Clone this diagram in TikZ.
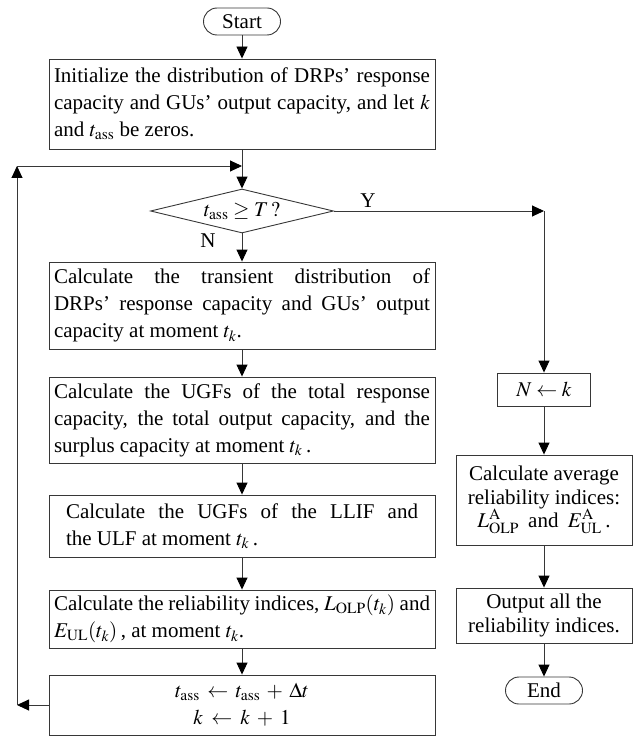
\documentclass[tikz,border=0pt]{standalone}
\usepackage{mathptmx}
\usepackage[no-math]{fontspec}
\setmainfont{Liberation Serif}
\usepackage{tikz}
\usetikzlibrary{arrows.meta, shapes.geometric, positioning}
\definecolor{LineColor}{RGB}{55,55,55}
\tikzstyle{arrow} = [line width=0.9pt, LineColor, -{Triangle[length=12pt, width=11pt, black]}]
\tikzstyle{process} = [rectangle, draw=LineColor, line width=0.9pt, text width=376pt, inner xsep=5pt, inner ysep=3pt, align=justify]
\tikzstyle{sidebox} = [rectangle, draw=LineColor, line width=0.9pt, minimum width=176pt, inner sep=3pt, align=center, font=\fontsize{21}{23.5}\selectfont]
\tikzstyle{terminal} = [rectangle, rounded corners=13.5pt, draw=LineColor, line width=0.9pt, minimum width=77pt, minimum height=27pt, inner sep=0pt]
\tikzstyle{decision} = [diamond, aspect=4, draw=LineColor, line width=0.9pt, minimum width=183pt, minimum height=44pt, inner sep=0pt]
\newcommand{\tass}{t_{\mathrm{ass}}}

\begin{document}
\begin{tikzpicture}[x=1pt, y=-1pt, font=\fontsize{21}{27}\selectfont]
                \useasboundingbox (0,0) rectangle (633,738);

                % Main column
                \node[terminal] (start) at (242,21.5) {Start};
                \node[process, minimum height=90pt] (init) at (242,104) {Initialize the distribution of DRPs’ response\linebreak capacity and GUs’ output capacity, and let $k$\linebreak and $\tass$ be zeros.};
                \node[decision] (test) at (242,211) {$\tass \geq T\,?$};
                \node[process, minimum height=87pt] (trans) at (242,305.5) {Calculate the transient distribution of\linebreak DRPs’ response capacity and GUs’ output\linebreak capacity at moment $t_k$.};
                \node[process, minimum height=86pt] (ugfcap) at (242,420) {Calculate the UGFs of the total response\linebreak capacity, the total output capacity, and the\linebreak surplus capacity at moment $t_k$\,.};
                \node[process, text width=352pt, inner xsep=17pt, minimum height=62pt] (ugfllif) at (242,526) {Calculate the UGFs of the LLIF and\linebreak the ULF at moment $t_k$\,.};
                \node[process, minimum height=58pt] (indices) at (242,619) {Calculate the reliability indices, $L_{\mathrm{OLP}}(t_k)$ and\linebreak $E_{\mathrm{UL}}(t_k)$\,, at moment $t_k$.};
                \node[process, align=center, minimum height=60pt] (update) at (242,705) {$\tass \mathrel{\!\leftarrow\!} \tass + \Delta t$\\ $k \mathrel{\!\leftarrow\!} k+1$};

                % Right column
                \node[sidebox, minimum width=93pt, minimum height=33pt] (setN) at (544,389.5) {$N \leftarrow k$};
                \node[sidebox, minimum height=90pt] (average) at (544,500) {Calculate average\\ reliability indices:\\ $L^{\mathrm{A}}_{\mathrm{OLP}}$\hspace{4pt} and\hspace{4pt} $E^{\mathrm{A}}_{\mathrm{UL}}$\,.};
                \node[sidebox, minimum height=55pt] (output) at (544,615.5) {Output all the\\ reliability indices.};
                \node[terminal] (stop) at (544,690.5) {End};

                % Branch labels
                \node (yes) at (368,201) {Y};
                \node (no) at (208,241) {N};

                % Loop and branch corners
                \coordinate (loopB) at (17,705);
                \coordinate (loopT) at (17,166);
                \coordinate (loopM) at (242,166);
                \coordinate (yesC) at (544,211);

                \draw[arrow] (start) -- (init);
                \draw[arrow] (init) -- (test);
                \draw[arrow] (test) -- (trans);
                \draw[arrow] (trans) -- (ugfcap);
                \draw[arrow] (ugfcap) -- (ugfllif);
                \draw[arrow] (ugfllif) -- (indices);
                \draw[arrow] (indices) -- (update);

                \draw[arrow] (update.west) -- (loopB);
                \draw[arrow] (loopB) -- (loopT);
                \draw[arrow] (loopT) -- (loopM);

                \draw[arrow] (test.east) -- (yesC);
                \draw[arrow] (yesC) -- (setN);
                \draw[arrow] (setN) -- (average);
                \draw[arrow] (average) -- (output);
                \draw[arrow] (output) -- (stop);
            \end{tikzpicture}
\end{document}
